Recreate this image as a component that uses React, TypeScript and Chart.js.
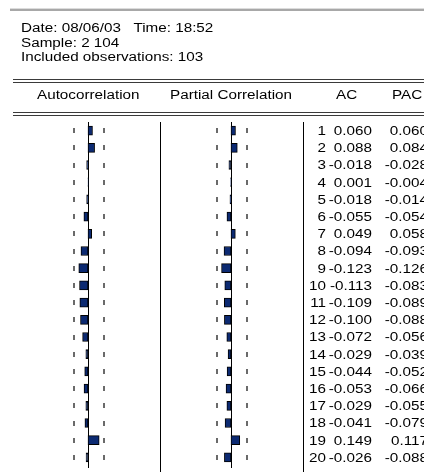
import { useEffect, useRef } from "react";
import { Chart, registerables } from "chart.js";

Chart.register(...registerables);

const lags = [1, 2, 3, 4, 5, 6, 7, 8, 9, 10, 11, 12, 13, 14, 15, 16, 17, 18, 19, 20];
const acValues = [0.060, 0.088, -0.018, 0.001, -0.018, -0.055, 0.049, -0.094, -0.123, -0.113, -0.109, -0.100, -0.072, -0.029, -0.044, -0.053, -0.029, -0.041, 0.149, -0.026];
const pacValues = [0.060, 0.084, -0.028, -0.004, -0.014, -0.054, 0.058, -0.093, -0.126, -0.083, -0.089, -0.088, -0.056, -0.039, -0.052, -0.066, -0.055, -0.079, 0.117, -0.088];
const infoLines = ["Date: 08/06/03   Time: 18:52", "Sample: 2 104", "Included observations: 103"];
const columnHeaders = ["Autocorrelation", "Partial Correlation", "AC", "PAC"];
const observations = 103;

const W = 424;
const H = 472;
const PX_PER_UNIT = 75;
const AC_ZERO = 88;
const PAC_ZERO = 231;
const STRETCH = 1.27;
const FONT = '"Liberation Sans", Arial, sans-serif';

const fmt = (v: number) => v.toFixed(3);

function stretchedText(ctx: CanvasRenderingContext2D, text: string, rightX: number, cy: number) {
  ctx.save();
  ctx.translate(rightX, cy);
  ctx.scale(STRETCH, 1);
  ctx.fillText(text, 0, 0);
  ctx.restore();
}

const decorPlugin = {
  id: "decor",
  beforeDatasetsDraw(chart: any) {
    const ctx = chart.ctx as CanvasRenderingContext2D;
    const y = chart.scales.y;
    const xac = chart.scales.xac;
    const xpac = chart.scales.xpac;
    const area = chart.chartArea;
    ctx.save();
    // top window line
    ctx.fillStyle = "#dcdcdc";
    ctx.fillRect(10, 8, W - 10, 1);
    ctx.fillStyle = "#a8a8a8";
    ctx.fillRect(10, 9, W - 10, 2);
    // double rules
    ctx.fillStyle = "#3a3a3a";
    ctx.fillRect(13, 79, W - 13, 1);
    ctx.fillRect(13, 82, W - 13, 1);
    ctx.fillRect(13, 112, W - 13, 1);
    ctx.fillRect(13, 115, W - 13, 1);
    // column separators
    ctx.fillStyle = "#000";
    ctx.fillRect(160, area.top, 1, H - area.top);
    ctx.fillRect(303, area.top, 1, H - area.top);
    // zero lines
    const z1 = Math.round(xac.getPixelForValue(0));
    const z2 = Math.round(xpac.getPixelForValue(0));
    ctx.fillRect(z1, area.top, 1, area.bottom - area.top + 2);
    ctx.fillRect(z2, area.top, 1, area.bottom - area.top + 2);
    // +-2 s.e. dashed bounds
    const se = 2 / Math.sqrt(observations);
    ctx.fillStyle = "#6a6a6a";
    lags.forEach((_, i) => {
      const cy = y.getPixelForValue(i);
      [xac, xpac].forEach((sc: any) => {
        [-se, se].forEach((b) => {
          const px = Math.round(sc.getPixelForValue(b));
          ctx.fillRect(px, Math.round(cy - 2.5), 2, 5);
        });
      });
    });
    ctx.restore();
  },
  afterDraw(chart: any) {
    const ctx = chart.ctx as CanvasRenderingContext2D;
    const y = chart.scales.y;
    ctx.save();
    ctx.fillStyle = "#000";
    ctx.font = `12px ${FONT}`;
    ctx.textAlign = "right";
    ctx.textBaseline = "middle";
    lags.forEach((lag, i) => {
      const cy = y.getPixelForValue(i) + 1;
      stretchedText(ctx, String(lag), 326, cy);
      stretchedText(ctx, fmt(acValues[i]), 372, cy);
      stretchedText(ctx, fmt(pacValues[i]), 428, cy);
    });
    ctx.restore();
  },
};

export default function App() {
  const ref = useRef<HTMLCanvasElement | null>(null);
  useEffect(() => {
    document.body.style.margin = "0";
    const chart = new Chart(ref.current as HTMLCanvasElement, {
      type: "bar",
      data: {
        labels: lags.map(String),
        datasets: [
          {
            label: "AC",
            data: acValues,
            xAxisID: "xac",
            yAxisID: "y",
            backgroundColor: "#0c2a72",
            borderColor: "#000",
            borderWidth: 1,
            borderSkipped: false,
            barThickness: 9,
            grouped: false,
          },
          {
            label: "PAC",
            data: pacValues,
            xAxisID: "xpac",
            yAxisID: "y",
            backgroundColor: "#0c2a72",
            borderColor: "#000",
            borderWidth: 1,
            borderSkipped: false,
            barThickness: 9,
            grouped: false,
          },
        ],
      },
      options: {
        indexAxis: "y",
        animation: false,
        responsive: false,
        maintainAspectRatio: false,
        layout: { padding: { top: 122, bottom: 6, left: 0, right: 0 } },
        plugins: { legend: { display: false }, tooltip: { enabled: false } },
        scales: {
          y: { type: "category", display: false, offset: true },
          xac: {
            type: "linear",
            display: false,
            min: -AC_ZERO / PX_PER_UNIT,
            max: (W - AC_ZERO) / PX_PER_UNIT,
          },
          xpac: {
            type: "linear",
            display: false,
            min: -PAC_ZERO / PX_PER_UNIT,
            max: (W - PAC_ZERO) / PX_PER_UNIT,
          },
        },
      } as any,
      plugins: [decorPlugin],
    });
    return () => chart.destroy();
  }, []);

  const textStyle: React.CSSProperties = {
    position: "absolute",
    fontFamily: FONT,
    fontSize: 12,
    lineHeight: "14px",
    whiteSpace: "pre",
    color: "#000",
    transform: `scaleX(${STRETCH})`,
    transformOrigin: "left center",
  };

  return (
    <div style={{ position: "relative", width: W, height: H, background: "#fff", overflow: "hidden" }}>
      <canvas ref={ref} width={W} height={H} style={{ position: "absolute", left: 0, top: 0, width: W, height: H }} />
      {infoLines.map((t, i) => (
        <div key={t} style={{ ...textStyle, left: 21, top: 21 + i * 14.5 }}>{t}</div>
      ))}
      <div style={{ ...textStyle, left: 37, top: 88 }}>{columnHeaders[0]}</div>
      <div style={{ ...textStyle, left: 170, top: 88 }}>{columnHeaders[1]}</div>
      <div style={{ ...textStyle, left: 336, top: 88 }}>{columnHeaders[2]}</div>
      <div style={{ ...textStyle, left: 392, top: 88 }}>{columnHeaders[3]}</div>
    </div>
  );
}
